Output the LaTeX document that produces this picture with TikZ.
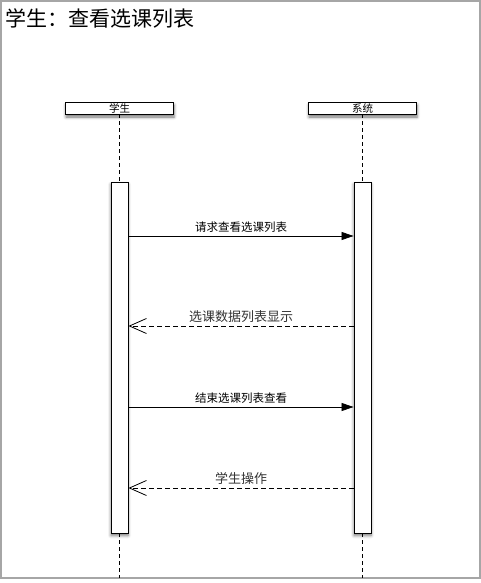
\documentclass[tikz,border=0pt]{standalone}
\usepackage{fontspec}
\setmainfont{Noto Sans CJK SC}
\usetikzlibrary{arrows.meta,shadows.blur}
\begin{document}
\begin{tikzpicture}[x=1pt,y=-1pt,
  actorbox/.style={draw,fill=white,line width=0.9pt,minimum width=108pt,minimum height=12pt,inner sep=0pt,
    font=\fontsize{10.5}{10.5}\selectfont,
    blur shadow={shadow xshift=0.5pt,shadow yshift=-3pt,shadow blur radius=3pt,shadow opacity=55}},
  actbox/.style={draw,fill=white,line width=0.9pt,minimum width=17pt,minimum height=351pt,inner sep=0pt,
    blur shadow={shadow xshift=0pt,shadow yshift=-2.5pt,shadow blur radius=3pt,shadow opacity=55}},
  lifeline/.style={line width=0.8pt,dash pattern=on 4pt off 3pt},
  callmsg/.style={line width=0.8pt,-{Triangle[length=12pt,width=8pt]}},
  retmsg/.style={line width=0.8pt,dash pattern=on 5pt off 3pt,-{Straight Barb[length=17pt,width=15pt]}},
  calllabel/.style={font=\fontsize{11.5}{11.5}\selectfont,above=3pt,inner sep=0pt},
  retlabel/.style={font=\fontsize{13}{13}\selectfont,text=black!80,above=3pt,inner sep=0pt}]
\useasboundingbox (0,0) rectangle (481,583);
\draw[gray!70,line width=1.2pt] (1,1) rectangle (480,578);
\node[anchor=base west,font=\fontsize{21}{21}\selectfont,inner sep=0pt] (title) at (5,27) {学生：查看选课列表};
\coordinate (e1) at (119.5,578);
\coordinate (e2) at (362.5,578);
\node[actbox] (a1) at (119.5,357.5) {};
\node[actbox] (a2) at (362.5,357.5) {};
\draw[lifeline] (a1.south) -- (e1);
\draw[lifeline] (a2.south) -- (e2);
\node[actorbox] (s) at (119.5,108) {学生};
\node[actorbox] (y) at (362.5,108) {系统};
\draw[lifeline] (s.south) -- (a1.north);
\draw[lifeline] (y.south) -- (a2.north);
% messages
\coordinate (m1) at (0,236);
\coordinate (m2) at (0,326);
\coordinate (m3) at (0,407);
\coordinate (m4) at (0,488);
\draw[callmsg] (a1.east |- m1) -- node[calllabel] {请求查看选课列表} (a2.west |- m1);
\draw[retmsg] (a2.west |- m2) -- node[retlabel] {选课数据列表显示} (a1.east |- m2);
\draw[callmsg] (a1.east |- m3) -- node[calllabel] {结束选课列表查看} (a2.west |- m3);
\draw[retmsg] (a2.west |- m4) -- node[retlabel] {学生操作} (a1.east |- m4);
\end{tikzpicture}
\end{document}
